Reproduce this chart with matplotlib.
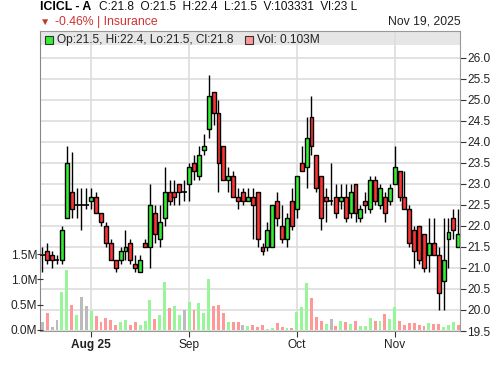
import numpy as np
import matplotlib
matplotlib.use("Agg")
import matplotlib.pyplot as plt
from matplotlib.patches import Rectangle

plt.rcParams['font.family'] = ['Liberation Sans', 'DejaVu Sans']

# daily candles, oldest first (Jul 18 .. Nov 19, 2025)
opens = [21.3, 21.4, 21.3, 21.2, 21.2, 22.2, 22.8, 22.5, 22.5, 22.5,
         22.6, 22.7, 22.3, 22.0, 21.6, 21.2, 21.2, 21.4, 21.6, 21.1,
         20.9, 21.6, 21.5, 22.3, 21.7, 22.2, 22.8, 22.8, 23.0, 22.8,
         23.0, 23.5, 23.2, 23.8, 24.3, 25.2, 24.7, 23.9, 23.1, 23.2,
         22.7, 22.8, 22.6, 22.7, 22.8, 21.5, 21.5, 21.5, 22.6, 22.0,
         21.7, 22.6, 22.4, 23.5, 23.4, 24.6, 23.7, 23.2, 22.7, 22.6,
         22.7, 22.6, 22.7, 22.3, 23.0, 22.2, 22.6, 22.4, 23.1, 22.5,
         22.7, 22.6, 23.0, 23.3, 22.7, 22.4, 21.9, 22.0, 21.8, 21.3,
         21.6, 21.3, 20.7, 21.7, 22.2, 21.5]
highs = [21.5, 21.6, 21.4, 21.3, 22.0, 23.9, 23.75, 22.9, 22.9, 22.9,
         22.9, 22.8, 22.3, 22.1, 21.7, 21.2, 21.5, 21.9, 21.7, 21.3,
         21.3, 21.7, 23.0, 22.5, 22.5, 23.4, 23.1, 23.1, 23.0, 23.1,
         23.5, 23.7, 23.9, 24.2, 25.6, 25.2, 25.0, 23.9, 23.4, 23.3,
         22.9, 22.9, 22.9, 22.9, 22.8, 21.6, 22.1, 22.5, 22.8, 22.5,
         22.3, 22.9, 23.2, 23.9, 24.6, 25.1, 23.7, 23.2, 22.9, 23.5,
         23.0, 23.0, 23.0, 23.0, 23.0, 22.5, 22.8, 23.2, 23.2, 23.0,
         22.8, 23.0, 23.9, 23.3, 23.3, 22.5, 22.0, 22.0, 21.8, 22.2,
         22.2, 21.5, 22.2, 22.2, 22.4, 22.4]
lows = [20.9, 21.1, 21.0, 21.1, 21.1, 22.2, 22.2, 22.2, 21.9, 22.4,
        22.4, 22.3, 22.0, 21.5, 21.2, 20.9, 21.1, 21.2, 21.1, 20.9,
        20.9, 21.5, 21.0, 21.6, 21.5, 22.0, 22.5, 22.5, 22.5, 22.6,
        22.6, 23.1, 23.1, 23.7, 24.1, 24.4, 22.8, 23.1, 22.8, 22.7,
        22.4, 22.5, 22.6, 21.7, 21.5, 21.3, 21.4, 21.5, 22.0, 21.6,
        21.5, 21.9, 22.2, 23.3, 22.9, 23.7, 22.8, 21.9, 22.1, 22.5,
        22.2, 22.4, 22.1, 22.2, 22.1, 22.1, 22.3, 22.3, 22.5, 22.4,
        22.1, 22.5, 23.0, 22.6, 22.4, 21.5, 21.0, 21.1, 20.9, 20.9,
        21.3, 20.0, 20.0, 21.0, 21.7, 21.5]
closes = [21.3, 21.2, 21.2, 21.2, 21.9, 23.5, 22.4, 22.5, 22.5, 22.5,
          22.7, 22.3, 22.1, 21.6, 21.2, 21.0, 21.4, 21.5, 21.2, 21.0,
          21.2, 21.5, 22.5, 21.8, 22.1, 22.8, 22.6, 22.7, 22.8, 22.8,
          23.4, 23.3, 23.7, 23.9, 25.1, 24.7, 23.5, 23.1, 23.2, 22.7,
          22.6, 22.6, 22.7, 22.5, 21.7, 21.4, 21.9, 22.5, 22.2, 21.7,
          22.2, 22.0, 23.2, 23.3, 24.1, 23.9, 22.9, 22.2, 22.6, 22.6,
          22.3, 22.7, 22.2, 22.8, 22.3, 22.4, 22.5, 23.1, 22.6, 22.9,
          22.3, 22.9, 23.4, 22.7, 22.4, 21.6, 21.4, 21.2, 21.0, 21.6,
          21.3, 20.4, 21.2, 21.85, 21.9, 21.8]
# volume in millions
volumes = [0.16, 0.34, 0.05, 0.20, 0.76, 1.18, 0.50, 0.30, 0.66, 0.48,
           0.38, 0.28, 0.15, 0.24, 0.20, 0.10, 0.15, 0.20, 0.10, 0.165,
           0.10, 0.18, 0.60, 0.22, 0.30, 0.94, 0.44, 0.48, 0.30, 0.40,
           0.55, 0.40, 0.53, 0.34, 1.01, 0.48, 0.50, 0.34, 0.16, 0.16,
           0.15, 0.10, 0.08, 0.10, 0.06, 0.10, 0.02, 0.04, 0.14, 0.06,
           0.04, 0.04, 0.36, 0.46, 0.93, 0.63, 0.26, 0.18, 0.12, 0.22,
           0.08, 0.18, 0.15, 0.12, 0.18, 0.08, 0.08, 0.24, 0.18, 0.18,
           0.32, 0.22, 0.46, 0.18, 0.10, 0.14, 0.14, 0.10, 0.08, 0.14,
           0.12, 0.12, 0.06, 0.10, 0.16, 0.10]

month_pos = [10, 30, 52, 72]
month_labels = ['Aug 25', 'Sep', 'Oct', 'Nov']

o = np.array(opens)
h = np.array(highs)
l = np.array(lows)
c = np.array(closes)
v = np.array(volumes)
x = np.arange(len(c))

UP = '#33ee33'
DOWN = '#ff3333'

fig = plt.figure(figsize=(5, 3.66), dpi=100)
ax = fig.add_axes([40 / 500, 1 - 331 / 366, 420 / 500, 300.3 / 366])
axv = ax.twinx()  # volume on its own scale, ticks on the left

# price axis on the right
ax.set_ylim(19.5, 26.65)
ax.set_xlim(-0.47, 85.35)
ticks = np.arange(19.5, 26.01, 0.5)
ax.set_yticks(ticks)
ax.set_yticklabels(['%.1f' % t for t in ticks])
ax.yaxis.tick_right()
ax.set_xticks(month_pos)
ax.set_xticklabels(month_labels)
ax.get_xticklabels()[0].set_fontweight('bold')
ax.grid(True, color='#dddddd', lw=1.2)
ax.tick_params(axis='y', labelsize=8.6, length=4, color='#333333', labelcolor='#222222', pad=1)
ax.tick_params(axis='x', labelsize=8.6, length=4, color='#333333', labelcolor='#222222', pad=2)
for s in ax.spines.values():
    s.set_color('#999999')
ax.spines['left'].set_color('#888888')

# legend band
ax.add_patch(Rectangle((0, 1 - 14.3 / 300.3), 1, 14.3 / 300.3, transform=ax.transAxes,
                       facecolor='#e6e6e6', edgecolor='none', zorder=1))

# candles
ax.vlines(x, l, h, color='black', lw=1, zorder=3)
doji = c == o
body_col = np.where(c > o, UP, DOWN)
ax.bar(x[~doji], np.abs(c - o)[~doji], bottom=np.minimum(o, c)[~doji], width=0.8,
       color=body_col[~doji], edgecolor='black', lw=1, zorder=4)
ax.hlines(c[doji], x[doji] - 0.5, x[doji] + 0.5, color='black', lw=1.2, zorder=4)

# volume
axv.set_ylim(-0.02, 5.915)
axv.yaxis.tick_left()
axv.set_yticks([0, 0.5, 1.0, 1.5])
axv.set_yticklabels(['0.0M', '0.5M', '1.0M', '1.5M'])
axv.tick_params(axis='y', labelsize=8.6, length=4, direction='inout', color='#333333',
                labelcolor='#222222', pad=0)
for s in axv.spines.values():
    s.set_visible(False)
prev = np.concatenate([[c[0]], c[:-1]])
vcol = np.where(c > prev, '#99f599', np.where(c < prev, '#ff9999', '#bbbbbb'))
axv.bar(x, v, width=0.6, color=vcol, zorder=2)

# header
fig.text(40 / 500, 1 - 7 / 366, 'ICICL - A', fontsize=8.8, fontweight='bold', va='center')
fig.text(99 / 500, 1 - 7 / 366, 'C:21.8  O:21.5  H:22.4  L:21.5  V:103331  Vl:23 L',
         fontsize=8.6, va='center', color='#111111')
fig.text(40 / 500, 1 - 22 / 366, '\u25bc', fontsize=7.5, va='center', color='#c0392b')
fig.text(55 / 500, 1 - 22 / 366, '-0.46% | Insurance', fontsize=8.8, va='center', color='#cc3333')
fig.text(461 / 500, 1 - 22 / 366, 'Nov 19, 2025', fontsize=8.8, va='center', ha='right',
         color='#222222')

# legend inside the band
ax.add_patch(Rectangle((0.012, 0.957), 0.018, 0.027, transform=ax.transAxes,
                       facecolor=UP, edgecolor='#333333', lw=0.8, zorder=5))
ax.text(0.04, 0.9705, 'Op:21.5, Hi:22.4, Lo:21.5, Cl:21.8', transform=ax.transAxes,
        fontsize=8.6, va='center', color='#222222', zorder=5)
ax.add_patch(Rectangle((0.488, 0.957), 0.018, 0.027, transform=ax.transAxes,
                       facecolor='#ff9999', edgecolor='#333333', lw=0.8, zorder=5))
ax.text(0.516, 0.9705, 'Vol: 0.103M', transform=ax.transAxes,
        fontsize=8.6, va='center', color='#222222', zorder=5)

plt.savefig('out.png', dpi=100)
